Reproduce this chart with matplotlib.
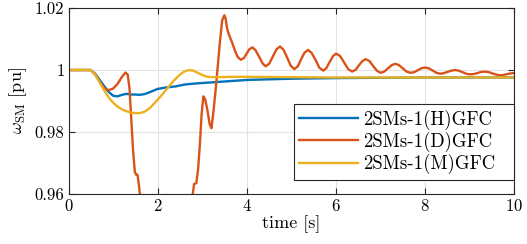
import matplotlib
matplotlib.use('Agg')
import matplotlib.pyplot as plt

# frequency response of the SM
t_h = [0, 0.5, 0.6, 0.7, 0.8, 0.9, 1.0, 1.1, 1.2, 1.3, 1.4, 1.5, 1.6, 1.7,
       1.8, 1.9, 2.0, 2.2, 2.4, 2.6, 2.8, 3.0, 3.3, 3.6, 4.0, 4.5, 5.0, 6.0,
       7.0, 8.0, 10.0]
w_h = [1.0, 1.0, 0.9988, 0.9968, 0.9948, 0.9930, 0.9917, 0.9915, 0.9920,
       0.9923, 0.9921, 0.9921, 0.9920, 0.9922, 0.9927, 0.9933, 0.9939, 0.9944,
       0.9947, 0.9953, 0.9956, 0.9958, 0.9961, 0.9964, 0.9968, 0.9970, 0.9972,
       0.9974, 0.9975, 0.9976, 0.9976]

t_d = [0, 0.5, 0.6, 0.7, 0.8, 0.9, 1.0, 1.1, 1.2, 1.28, 1.33, 1.37, 1.41,
       1.45, 1.49, 1.52, 1.55, 1.58, 1.61, 1.65, 2.2, 2.75, 2.79, 2.82, 2.87,
       2.91, 2.95, 2.99, 3.03, 3.07, 3.12, 3.17, 3.21, 3.25, 3.30, 3.35, 3.40,
       3.45, 3.50, 3.53, 3.56, 3.60, 3.67, 3.74, 3.80, 3.87, 3.94, 4.00, 4.06,
       4.13, 4.20, 4.28, 4.36, 4.43, 4.51, 4.59, 4.67, 4.75, 4.83, 4.91, 4.99,
       5.07, 5.15, 5.22, 5.30, 5.38, 5.46, 5.55, 5.63, 5.72, 5.79, 5.86, 5.94,
       6.01, 6.10, 6.19, 6.28, 6.37, 6.45, 6.52, 6.60, 6.67, 6.76, 6.84, 6.93,
       7.01, 7.09, 7.17, 7.26, 7.34, 7.42, 7.51, 7.59, 7.68, 7.76, 7.84, 7.93,
       8.01, 8.10, 8.18, 8.26, 8.35, 8.43, 8.51, 8.60, 8.68, 8.76, 8.85, 8.93,
       9.01, 9.10, 9.18, 9.27, 9.36, 9.44, 9.52, 9.61, 9.69, 9.77, 9.85, 9.93,
       10.0]
w_d = [1.0, 1.0, 0.9985, 0.9962, 0.9942, 0.9935, 0.9940, 0.9955, 0.9978,
       0.9992, 0.9985, 0.9940, 0.9840, 0.9740, 0.9670, 0.9662, 0.9662, 0.9630,
       0.9590, 0.9550, 0.9300, 0.9550, 0.9600, 0.9632, 0.9635, 0.9680, 0.9760,
       0.9860, 0.9915, 0.9905, 0.9870, 0.9825, 0.9812, 0.9860, 0.9930, 1.0010,
       1.0090, 1.0160, 1.0177, 1.0165, 1.0135, 1.0115, 1.0090, 1.0062, 1.0042,
       1.0033, 1.0039, 1.0053, 1.0067, 1.0073, 1.0064, 1.0043, 1.0021, 1.0012,
       1.0021, 1.0044, 1.0067, 1.0076, 1.0065, 1.0040, 1.0014, 1.0003, 1.0012,
       1.0034, 1.0056, 1.0065, 1.0055, 1.0032, 1.0008, 0.9998, 1.0006, 1.0025,
       1.0045, 1.0053, 1.0045, 1.0024, 1.0003, 0.9995, 1.0001, 1.0015, 1.0029,
       1.0035, 1.0029, 1.0013, 0.9997, 0.9991, 0.9995, 1.0005, 1.0016, 1.0020,
       1.0016, 1.0005, 0.9995, 0.9991, 0.9993, 0.9999, 1.0006, 1.0008, 1.0005,
       0.9998, 0.9991, 0.9988, 0.9990, 0.9994, 0.9998, 1.0000, 0.9998, 0.9993,
       0.9988, 0.9986, 0.9987, 0.9990, 0.9994, 0.9995, 0.9993, 0.9989, 0.9985,
       0.9983, 0.9984, 0.9987, 0.9989, 0.9990]

t_m = [0, 0.5, 0.6, 0.7, 0.8, 0.9, 1.0, 1.1, 1.2, 1.3, 1.4, 1.5, 1.6, 1.7,
       1.8, 1.9, 2.0, 2.1, 2.2, 2.3, 2.4, 2.5, 2.6, 2.7, 2.8, 2.9, 3.0, 3.1,
       3.2, 3.4, 3.6, 4.0, 5.0, 6.0, 8.0, 10.0]
w_m = [1.0, 1.0, 0.9985, 0.9960, 0.9935, 0.9912, 0.9895, 0.9882, 0.9873,
       0.9867, 0.9863, 0.9861, 0.9861, 0.9865, 0.9874, 0.9888, 0.9904, 0.9920,
       0.9938, 0.9955, 0.9971, 0.9985, 0.9995, 1.0000, 0.9998, 0.9991, 0.9984,
       0.9979, 0.9977, 0.9977, 0.9978, 0.9978, 0.9977, 0.9976, 0.9976, 0.9976]

labels = ['2SMs-1(H)GFC', '2SMs-1(D)GFC', '2SMs-1(M)GFC']
colors = ['#0072BD', '#D95319', '#EDB120']

plt.rcParams['font.family'] = 'serif'
plt.rcParams['font.serif'] = ['cmr10']
plt.rcParams['mathtext.fontset'] = 'cm'
plt.rcParams['axes.formatter.use_mathtext'] = True

fig = plt.figure(figsize=(5.27, 2.44), dpi=100)
ax = fig.add_axes([0.130, 0.205, 0.845, 0.762])

for t, w, lab, c in zip([t_h, t_d, t_m], [w_h, w_d, w_m], labels, colors):
    ax.plot(t, w, color=c, lw=1.7, label=lab)

ax.set_xlim(0, 10)
ax.set_ylim(0.96, 1.02)
ax.set_xticks([0, 2, 4, 6, 8, 10])
ax.set_yticks([0.96, 0.98, 1.0, 1.02])
ax.set_yticklabels(['0.96', '0.98', '1', '1.02'])
ax.grid(True, color='#e3e3e3', lw=0.8)
ax.set_axisbelow(True)
ax.tick_params(direction='in', top=True, right=True, length=4,
               labelsize=12, color='#262626', pad=3)
for s in ax.spines.values():
    s.set_color('#262626')
    s.set_linewidth(0.8)

ax.set_xlabel('time [s]', fontsize=13, labelpad=1)
ax.set_ylabel(r'$\omega_{\rm SM}$ [pu]', fontsize=13, labelpad=4)

# MATLAB-like legend: fixed box, text left aligned with spare room on the right
leg = ax.legend(loc='lower left', bbox_to_anchor=(0.506, 0.075, 0.494, 0.41),
                mode='expand', borderaxespad=0, fontsize=13.5,
                handlelength=3.1, labelspacing=0.12, borderpad=0.3,
                handletextpad=0.3, fancybox=False, framealpha=1)
leg.get_frame().set_edgecolor('#262626')
leg.get_frame().set_linewidth(0.8)

fig.savefig('out.png', dpi=100)
